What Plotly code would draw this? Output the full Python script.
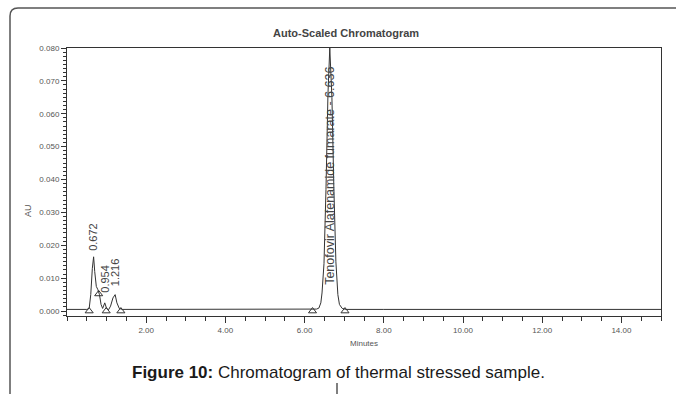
import plotly.graph_objects as go

# Chromatogram trace (minutes, AU)
time_min = [0.00, 0.30, 0.50, 0.56, 0.60, 0.64, 0.672, 0.70, 0.74, 0.78, 0.82, 0.86, 0.90,
            0.954, 1.00, 1.05, 1.10, 1.16, 1.216, 1.26, 1.32, 1.40, 2.00, 3.00, 4.00, 5.00,
            6.00, 6.20, 6.30, 6.36, 6.41, 6.44, 6.49, 6.54, 6.59, 6.636, 6.69, 6.74, 6.79,
            6.84, 6.88, 6.95, 7.05, 8.00, 9.00, 10.00, 11.00, 11.50, 12.00, 12.50, 13.00,
            14.00, 15.00]
absorb_au = [0.0005, 0.0005, 0.0005, 0.0008, 0.0050, 0.0130, 0.0165, 0.0120, 0.0075, 0.0065,
             0.0050, 0.0020, 0.0008, 0.0025, 0.0008, 0.0004, 0.0015, 0.0040, 0.0050, 0.0025,
             0.0008, 0.0005, 0.0005, 0.0005, 0.0005, 0.0005, 0.0005, 0.0005, 0.0006, 0.0009,
             0.0025, 0.0055, 0.0145, 0.0370, 0.0660, 0.0800, 0.0650, 0.0370, 0.0150, 0.0050,
             0.0020, 0.0008, 0.0005, 0.0005, 0.0005, 0.0005, 0.0006, 0.0007, 0.0007, 0.0006,
             0.0005, 0.0005, 0.0005]

# Peak labels
peak_times = [0.672, 0.954, 1.216, 6.636]
peak_label_y = [0.0176, 0.0049, 0.0070, 0.0073]
peak_labels = ["0.672", "0.954", "1.216", "Tenofovir Alafenamide fumarate - 6.636"]
peak_label_size = [11, 11, 11, 12.5]

# Integration markers
marker_times = [0.56, 0.80, 0.99, 1.36, 6.20, 7.02]
marker_au = [0.0000, 0.0052, 0.0000, 0.0000, 0.0000, 0.0000]

x_ticks = [2, 4, 6, 8, 10, 12, 14]
x_tick_text = ["2.00", "4.00", "6.00", "8.00", "10.00", "12.00", "14.00"]
y_ticks = [0.00, 0.01, 0.02, 0.03, 0.04, 0.05, 0.06, 0.07, 0.08]
y_tick_text = ["0.000", "0.010", "0.020", "0.030", "0.040", "0.050", "0.060", "0.070", "0.080"]

LINE = "#333333"
TXT = "#555555"
FONT = "Liberation Sans, Arial, sans-serif"

fig = go.Figure()
fig.add_trace(go.Scatter(x=time_min, y=absorb_au, mode="lines",
                         line=dict(color=LINE, width=1), hoverinfo="skip"))
fig.add_trace(go.Scatter(x=marker_times, y=marker_au, mode="markers",
                         marker=dict(symbol="triangle-up-open", size=7,
                                     color=LINE, line=dict(width=1, color=LINE)),
                         hoverinfo="skip"))

for t, yy, lab, fs in zip(peak_times, peak_label_y, peak_labels, peak_label_size):
    fig.add_annotation(x=t, y=yy, xref="x", yref="y", text=lab, showarrow=False,
                       textangle=-90, xanchor="center", yanchor="bottom",
                       font=dict(family=FONT, size=fs, color="#444444"))

W, H = 676, 394
L, R, T, B = 67, 15, 48, 78
pw, ph = W - L - R, H - T - B


def px(x):
    return (x - L) / pw


def py(y):
    return (H - B - y) / ph


def label(xp, yp, text, size, color, angle=0):
    fig.add_annotation(x=px(xp), y=py(yp), xref="paper", yref="paper", text=text,
                       showarrow=False, textangle=angle, xanchor="center",
                       yanchor="middle", font=dict(family=FONT, size=size, color=color))


# Title, axis labels, caption
label(346, 33, "<b>Auto-Scaled Chromatogram</b>", 11, "#444444")
label(28, 210, "AU", 9, TXT, -90)
label(364, 343, "Minutes", 8, TXT)
label(338, 372, "<b>Figure 10:</b> Chromatogram of thermal stressed sample.", 17, "#1a1a1a")

# Outer rounded frame
x0, y0r, rr = px(10), py(8), 8
path = (f"M {x0},{py(400)} L {x0},{py(8 + rr)} "
        f"Q {x0},{y0r} {px(10 + rr)},{y0r} L {px(690)},{y0r}")
fig.add_shape(type="path", path=path, xref="paper", yref="paper",
              line=dict(color="#555555", width=1.5))
fig.add_shape(type="line", xref="paper", yref="paper", x0=px(337), x1=px(337),
              y0=py(383), y1=py(400), line=dict(color="#555555", width=1.5))

fig.update_layout(
    width=W, height=H, margin=dict(l=L, r=R, t=T, b=B),
    paper_bgcolor="white", plot_bgcolor="white", showlegend=False,
    font=dict(family=FONT),
)
fig.update_xaxes(range=[0, 15], tickvals=x_ticks, ticktext=x_tick_text,
                 showgrid=False, zeroline=False, showline=True, mirror=True,
                 linecolor=LINE, linewidth=1, ticks="outside", ticklen=6,
                 tickcolor=LINE, tickfont=dict(family=FONT, size=8, color=TXT),
                 minor=dict(dtick=0.5, tick0=0, ticks="outside", ticklen=4,
                            tickcolor=LINE, showgrid=False))
fig.update_yaxes(range=[-0.0015, 0.0800], tickvals=y_ticks, ticktext=y_tick_text,
                 showgrid=False, zeroline=False, showline=True, mirror=True,
                 linecolor=LINE, linewidth=1, ticks="outside", ticklen=5,
                 tickcolor=LINE, tickfont=dict(family=FONT, size=8, color=TXT),
                 minor=dict(dtick=0.00125, tick0=0, ticks="outside", ticklen=3,
                            tickcolor=LINE, showgrid=False))

fig.write_html("out.html")
